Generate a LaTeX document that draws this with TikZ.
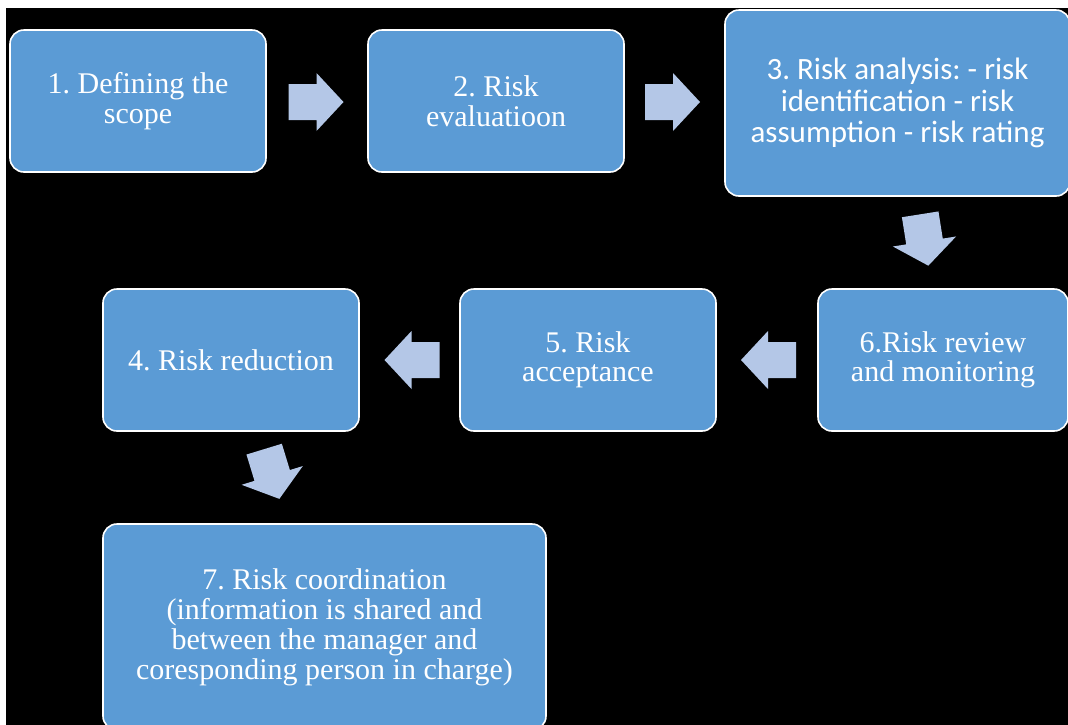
\documentclass[tikz,border=0pt]{standalone}
\usepackage{fontspec}
\setmainfont{Liberation Serif}
\newfontfamily\calibrifont{Carlito}
\usepackage{xcolor}
\usetikzlibrary{positioning,calc}
\definecolor{stageblue}{HTML}{5B9BD5}
\definecolor{arrowblue}{HTML}{B4C7E7}
\frenchspacing

\begin{document}
\begin{tikzpicture}[x=1pt,y=-1pt,
    stage/.style={rectangle, rounded corners=14pt, draw=white, line width=1.6pt, fill=stageblue, text=white, align=center, inner sep=0pt, font=\fontsize{30}{29.5}\selectfont},
    flowarrow/.pic={\fill[arrowblue] (-27.5,-18) -- (0.5,-18) -- (0.5,-29) -- (27.5,0) -- (0.5,29) -- (0.5,18) -- (-27.5,18) -- cycle;},
    droparrow/.pic={\fill[arrowblue] (-26,-18.5) -- (1.5,-18.5) -- (1.5,-32) -- (26,0) -- (1.5,32) -- (1.5,18.5) -- (-26,18.5) -- cycle;}]
    \useasboundingbox (0,0) rectangle (1068,724);
    \clip (0,0) rectangle (1068,724);
    \fill[white] (0,0) rectangle (1068,724);
    \fill[black] (6,8) rectangle (1072,728);
    % first row
    \node [stage, minimum width=256pt, minimum height=142pt] (scope) at (138,101) {1. Defining the\\scope};
    \node [stage, minimum width=256pt, minimum height=142pt] (evaluation) at (496,101) {2. Risk\\evaluatioon};
    \node [stage, minimum width=345pt, minimum height=186pt, font=\calibrifont\fontsize{31}{31.5}\selectfont] (analysis) at (897.5,103) {3. Risk analysis: - risk\\identification - risk\\assumption - risk rating};
    % second row
    \node [stage, minimum width=250pt, minimum height=142pt] (review) at (943,360) {6.Risk review\\and monitoring};
    \node [stage, minimum width=256pt, minimum height=142pt] (acceptance) at (588,360) {5. Risk\\acceptance};
    \node [stage, minimum width=256pt, minimum height=142pt] (reduction) at (231,360) {4. Risk reduction};
    % last box
    \node [stage, minimum width=443pt, minimum height=206pt, font=\fontsize{30}{30}\selectfont] (coordination) at (324.5,627) {7. Risk coordination\\(information is shared and\\between the manager and\\coresponding person in charge)};
    % block arrows
    \pic (next1) at ($(scope.east)!0.5!(evaluation.west)+(-1,1)$) {flowarrow};
    \pic (next2) at ($(evaluation.east)!0.5!(analysis.west)+(-2,0)$) {flowarrow};
    \pic (next3) [rotate=-81] at ($(analysis.south)!0.5!(review.north)+(4,-2.5)$) {droparrow};
    \pic (next4) [rotate=180] at ($(review.west)!0.5!(acceptance.east)+(1.5,0)$) {flowarrow};
    \pic (next5) [rotate=180] at ($(acceptance.west)!0.5!(reduction.east)+(2.5,0)$) {flowarrow};
    \pic (next6) [rotate=-73] at ($(reduction.south)!0.5!(coordination.north)+(-6,-3.5)$) {droparrow};
\end{tikzpicture}
\end{document}
